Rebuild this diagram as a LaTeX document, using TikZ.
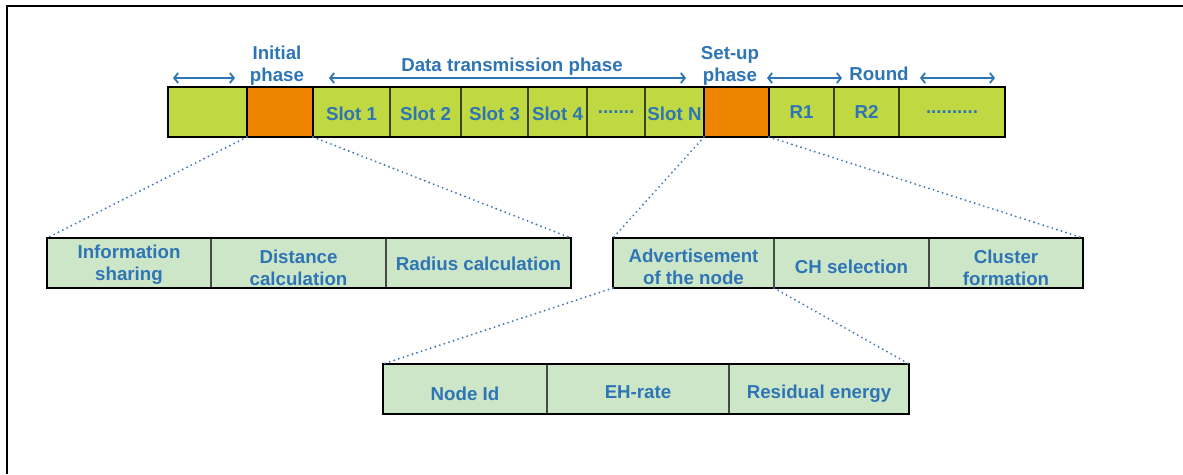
\documentclass[tikz,border=0pt]{standalone}
\usepackage{fontspec}
\setmainfont{Liberation Sans}
\usetikzlibrary{arrows.meta}
\definecolor{txtblue}{RGB}{46,117,182}
\definecolor{dotblue}{RGB}{70,120,180}
\definecolor{lime}{RGB}{192,216,66}
\definecolor{phaseorange}{RGB}{238,132,0}
\definecolor{palegreen}{RGB}{206,230,200}
\definecolor{slotline}{RGB}{55,70,30}
\definecolor{subline}{RGB}{70,75,70}
% two centred lines, 22pt apart
\newcommand{\twoline}[2]{\begin{tabular}{@{}c@{}}#1\\#2\end{tabular}}
% move text down inside a cell without changing its box
\newcommand{\sinktext}[2]{\raisebox{-#1}[\height][\depth]{#2}}
\begin{document}
\begin{tikzpicture}[x=1pt,y=-1pt,
  txt/.style={text=txtblue,font=\fontsize{18.7}{22}\selectfont\bfseries,align=center},
  slotcell/.style={txt,draw=slotline,line width=1.2pt,fill=lime,anchor=north west,
    inner sep=0pt,outer sep=0pt,minimum height=50pt},
  phasecell/.style={slotcell,fill=phaseorange},
  subcell/.style={txt,draw=subline,line width=1.1pt,fill=palegreen,anchor=north west,
    inner sep=0pt,outer sep=0pt,minimum height=50pt},
  rowframe/.style={draw=black,line width=2.6pt},
  span/.style={draw=txtblue,line width=1.8pt,{Straight Barb[length=4pt,width=10pt]}-{Straight Barb[length=4pt,width=10pt]}},
  zoomline/.style={draw=dotblue,line width=2.1pt,line cap=round,dash pattern=on 0pt off 4.8pt}]
\useasboundingbox (0,0) rectangle (1183,474);
% page frame (top and left edges)
\draw[line width=2.6pt] (7,474) -- (7,6) -- (1183,6);

% ---- frame timeline ----
\node[slotcell,minimum width=79pt] (c0) at (168,87) {};
\node[phasecell,minimum width=66pt] (ini) at (247,87) {};
\node[slotcell,minimum width=77pt] (s1) at (313,87) {\sinktext{2pt}{Slot 1}};
\node[slotcell,minimum width=71pt] (s2) at (390,87) {\sinktext{2pt}{Slot 2}};
\node[slotcell,minimum width=67pt] (s3) at (461,87) {\sinktext{2pt}{Slot 3}};
\node[slotcell,minimum width=59pt] (s4) at (528,87) {\sinktext{2pt}{Slot 4}};
\node[slotcell,minimum width=58pt] (sd) at (587,87) {\sinktext{0pt}{.......}};
\node[slotcell,minimum width=59pt] (sN) at (645,87) {\sinktext{2pt}{Slot N}};
\node[phasecell,minimum width=65pt] (setup) at (704,87) {};
\node[slotcell,minimum width=65pt] (r1) at (769,87) {R1};
\node[slotcell,minimum width=65pt] (r2) at (834,87) {R2};
\node[slotcell,minimum width=106pt] (rd) at (899,87) {\sinktext{0pt}{..........}};
\draw[rowframe] (c0.north west) rectangle (rd.south east);
\draw[rowframe] (ini.north west) -- (ini.south west) (ini.north east) -- (ini.south east)
  (setup.north west) -- (setup.south west) (setup.north east) -- (setup.south east);

% ---- labels and spans above the timeline ----
\node[txt] (lini) at (277,66) {\twoline{Initial}{phase}};
\node[txt] (ldata) at (512,67) {Data transmission phase};
\node[txt] (lset) at (730,66) {\twoline{Set-up}{phase}};
\node[txt] (lround) at (879,74) {Round};
\coordinate (a0) at (173,78); \coordinate (a1) at (235,78);
\coordinate (d0) at (329,78); \coordinate (d1) at (686,78);
\coordinate (q0) at (767,78); \coordinate (q1) at (842,78);
\coordinate (p0) at (920,78); \coordinate (p1) at (995,78);
\draw[span] (a0) -- (a1);
\draw[span] (d0) -- (d1);
\draw[span] (q0) -- (q1);
\draw[span] (p0) -- (p1);

% ---- initial phase detail ----
\node[subcell,minimum width=164pt] (info) at (47,238) {\sinktext{2pt}{\twoline{Information}{sharing}}};
\node[subcell,minimum width=175pt] (dist) at (211,238) {\sinktext{7pt}{\twoline{Distance}{calculation}}};
\node[subcell,minimum width=185pt] (rad) at (386,238) {\sinktext{1pt}{Radius calculation}};
\draw[rowframe] (info.north west) rectangle (rad.south east);

% ---- set-up phase detail ----
\node[subcell,minimum width=161pt] (adv) at (613,238) {\sinktext{6pt}{\twoline{Advertisement}{of the node}}};
\node[subcell,minimum width=155pt] (chs) at (774,238) {\sinktext{4pt}{CH selection}};
\node[subcell,minimum width=154pt] (clu) at (929,238) {\sinktext{7pt}{\twoline{Cluster}{formation}}};
\draw[rowframe] (adv.north west) rectangle (clu.south east);

% ---- advertisement detail ----
\node[subcell,minimum width=164pt] (nid) at (383,364) {\sinktext{5pt}{Node Id}};
\node[subcell,minimum width=182pt] (ehr) at (547,364) {\sinktext{3pt}{EH-rate}};
\node[subcell,minimum width=180pt] (res) at (729,364) {\sinktext{5pt}{Residual energy}};
\draw[rowframe] (nid.north west) rectangle (res.south east);

% ---- zoom guides ----
\draw[zoomline] (ini.south west) -- (info.north west);
\draw[zoomline] (ini.south east) -- (rad.north east);
\draw[zoomline] (setup.south west) -- (adv.north west);
\draw[zoomline] (setup.south east) -- (clu.north east);
\draw[zoomline] (adv.south west) -- (nid.north west);
\draw[zoomline] (adv.south east) -- (res.north east);
\end{tikzpicture}
\end{document}
